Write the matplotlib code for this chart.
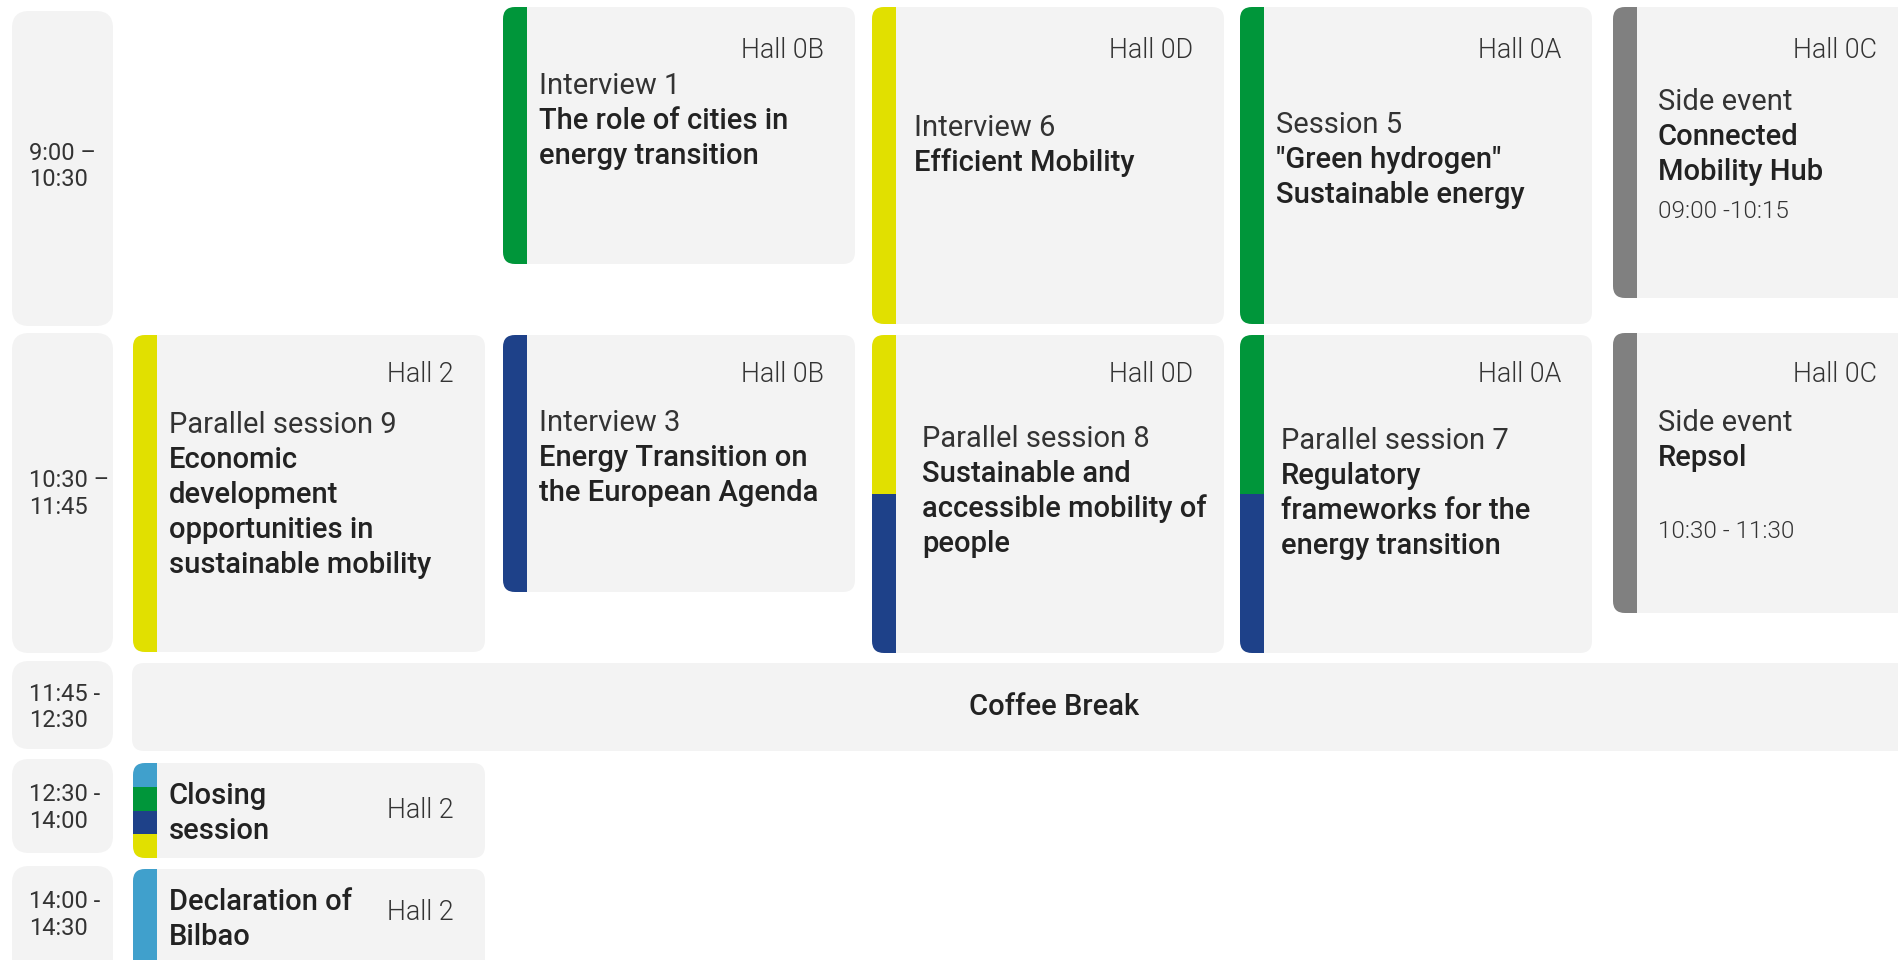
import matplotlib.pyplot as plt
from matplotlib.patches import FancyBboxPatch, Rectangle

plt.rcParams['font.family'] = ['Roboto', 'DejaVu Sans']

# --- data ---
slots = ["9:00 –\n10:30", "10:30 –\n11:45", "11:45 -\n12:30", "12:30 -\n14:00", "14:00 -\n14:30"]
halls = ["Hall 2", "Hall 0B", "Hall 0D", "Hall 0A", "Hall 0C"]

sess_slot = [0, 0, 0, 0, 1, 1, 1, 1, 1, 3, 4]
sess_hall = [1, 2, 3, 4, 0, 1, 2, 3, 4, 0, 0]
sess_kind = ["Interview 1", "Interview 6", "Session 5", "Side event",
             "Parallel session 9", "Interview 3", "Parallel session 8",
             "Parallel session 7", "Side event", "", ""]
sess_title = ["The role of cities in\nenergy transition",
              "Efficient Mobility",
              "\"Green hydrogen\"\nSustainable energy",
              "Connected\nMobility Hub",
              "Economic\ndevelopment\nopportunities in\nsustainable mobility",
              "Energy Transition on\nthe European Agenda",
              "Sustainable and\naccessible mobility of\npeople",
              "Regulatory\nframeworks for the\nenergy transition",
              "Repsol",
              "Closing\nsession",
              "Declaration of\nBilbao"]
sess_time = ["", "", "", "09:00 -10:15", "", "", "", "", "\n10:30 - 11:30", "", ""]
sess_theme = [["energy"], ["mobility"], ["energy"], ["side"], ["mobility"],
              ["policy"], ["mobility", "policy"], ["energy", "policy"], ["side"],
              ["plenary", "energy", "policy", "mobility"], ["plenary"]]
break_slot = 2
break_label = "Coffee Break"

# --- style / layout ---
theme_color = {"energy": "#00963a", "mobility": "#e1e000", "policy": "#1e4189",
               "side": "#808080", "plenary": "#40a0cc"}
BG = "#f3f3f3"
DARK = "#222222"
MID = "#333333"

col_x = [133, 503, 872, 1240, 1613]
col_w = [352, 352, 352, 352, 297]
slot_top = [11, 333, 661, 759, 866]
slot_h = [315, 320, 88, 94, 120]
slot_text_y = [166.5, 494, 707.5, 808, 915]
sess_top = [7, 7, 7, 7, 335, 335, 335, 335, 333, 763, 869]
sess_h = [257, 317, 317, 291, 317, 257, 318, 318, 280, 95, 120]
text_y0 = [86, 128, 125, 102, 425, 423, 439, 441, 423, 796, 902]
text_dx = [12, 18, 12, 21, 12, 12, 26, 17, 21, 12, 12]
hall_dy = [43, 43, 43, 43, 39, 39, 39, 39, 41, 48, 44]
LINE = 35
BAR = 24

fig = plt.figure(figsize=(18.98, 9.6), dpi=100)
ax = fig.add_axes([0, 0, 1, 1])
ax.set_xlim(0, 1898)
ax.set_ylim(960, 0)
ax.axis('off')

# time column
for i, s in enumerate(slots):
    ax.add_patch(FancyBboxPatch((12, slot_top[i]), 101, slot_h[i],
                                boxstyle="round,pad=0,rounding_size=17", fc=BG, ec='none'))
    ax.text(29, slot_text_y[i], s, fontsize=17, color=MID,
            va='center', ha='left', linespacing=1.2)

# coffee break
ax.add_patch(FancyBboxPatch((132, 663), 1844, 88,
                            boxstyle="round,pad=0,rounding_size=12", fc=BG, ec='none'))
ax.text(132 + 1844 / 2, 707, break_label, fontsize=21, fontweight='medium',
        color=DARK, ha='center', va='center')

for k in range(len(sess_slot)):
    c = sess_hall[k]
    x = col_x[c]
    w = col_w[c]
    y = sess_top[k]
    h = sess_h[k]
    box = FancyBboxPatch((x, y), w, h, boxstyle="round,pad=0,rounding_size=12",
                         fc=BG, ec='none')
    ax.add_patch(box)
    themes = sess_theme[k]
    seg = h / len(themes)
    for j, t in enumerate(themes):
        r = Rectangle((x, y + j * seg), BAR, seg, fc=theme_color[t], ec='none')
        ax.add_patch(r)
        r.set_clip_path(box)

    tx = x + BAR + text_dx[k]
    yy = text_y0[k]
    if sess_kind[k]:
        ax.text(tx, yy, sess_kind[k], fontsize=21, color=MID, va='center', ha='left')
        yy += LINE
    for line in sess_title[k].split("\n"):
        ax.text(tx, yy, line, fontsize=21, fontweight='medium', color=DARK,
                va='center', ha='left')
        yy += LINE
    if sess_time[k]:
        lines = sess_time[k].split("\n")
        yy += LINE * (len(lines) - 1) + 4
        ax.text(tx, yy, lines[-1], fontsize=17.5, fontweight=300, color=MID,
                va='center', ha='left')

    ax.text(x + 352 - 31 if c < 4 else 1877, y + hall_dy[k], halls[c], fontsize=19.3,
            fontweight=300, color=MID, ha='right', va='center')

fig.savefig("out.png", dpi=100, facecolor='white')
